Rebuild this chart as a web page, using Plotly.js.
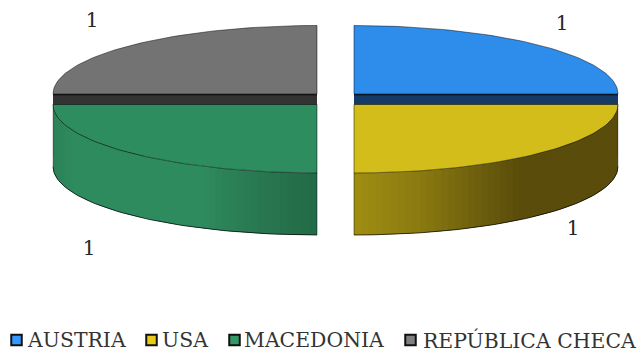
<!DOCTYPE html>
<html><head><meta charset="utf-8">
<script src="https://cdn.plot.ly/plotly-3.0.1.min.js"></script>
<style>html,body{margin:0;padding:0;background:#fff}#c{width:641px;height:353px}</style>
</head><body><div id="c"></div>
<script>
const categories = ["AUSTRIA", "USA", "MACEDONIA", "REPÚBLICA CHECA"];
const values = [1, 1, 1, 1];
const faceColors = ["#2e8ceb", "#d3bd1a", "#2e8d5e", "#737373"];
const cutColors = ["#153a66", "#5c500c", "#1f5c3f", "#333333"];
const legendColors = ["#3399ff", "#e6cc19", "#339966", "#808080"];
const legendMarkerX = [16.5, 151.5, 234.5, 410.5];
const legendTextX = [24.5, 159.5, 242, 421];
const labelX = [562, 573, 89, 92];
const labelY = [25, 230, 250, 22];
const sideStops = {
  1: [[354, "#a08e12"], [420, "#8a7a10"], [480, "#6c5e0d"], [520, "#5a4c0a"], [618, "#5a4c0a"]],
  2: [[53, "#2b8257"], [75, "#2e8b5e"], [200, "#2e8b5e"], [250, "#2a7a52"], [317, "#226a47"]]
};

const RX = 264, RY = 68.5, DEPTH = 62, CX = 335.5, CY = 99.25;
const EX = 26.16, EY = 7.42;
const total = values.reduce((a, b) => a + b, 0);
const outline = "rgba(0,0,0,0.7)";
const traces = [];

function hex(c) { return [1, 3, 5].map(i => parseInt(c.substr(i, 2), 16)); }
function colorAt(stops, x) {
  for (let i = 1; i < stops.length; i++) {
    if (x <= stops[i][0]) {
      const t = (x - stops[i - 1][0]) / (stops[i][0] - stops[i - 1][0]);
      const a = hex(stops[i - 1][1]), b = hex(stops[i][1]);
      return "rgb(" + a.map((v, k) => Math.round(v + (b[k] - v) * Math.max(0, t))).join(",") + ")";
    }
  }
  return stops[stops.length - 1][1];
}
function poly(xs, ys, fill, line, width) {
  traces.push({
    type: "scatter", mode: "lines", x: xs, y: ys, fill: "toself", fillcolor: fill,
    line: { color: line || fill, width: width === undefined ? 0 : width },
    hoverinfo: "skip", showlegend: false
  });
}
function stroke(xs, ys, color, width) {
  traces.push({
    type: "scatter", mode: "lines", x: xs, y: ys,
    line: { color: color, width: width }, hoverinfo: "skip", showlegend: false
  });
}

let acc = 0;
const slices = values.map((v, i) => {
  const a0 = acc / total * 2 * Math.PI;
  acc += v;
  const a1 = acc / total * 2 * Math.PI;
  const mid = (a0 + a1) / 2;
  return { i, a0, a1, cx: CX + EX * Math.sin(mid), cy: CY - EY * Math.cos(mid) };
});
function pt(s, a, dy) {
  return [s.cx + RX * Math.sin(a), s.cy - RY * Math.cos(a) + (dy || 0)];
}
function arc(s, from, to, dy) {
  const n = 60, out = [];
  for (let k = 0; k <= n; k++) out.push(pt(s, from + (to - from) * k / n, dy));
  return out;
}

// Back slices first, so that the front slices overlap their cut faces.
const order = slices.slice().sort((a, b) => a.cy - b.cy);
order.forEach(s => {
  const front = Math.cos((s.a0 + s.a1) / 2) < 0;
  if (!front) {
    const edgeA = Math.abs(Math.cos(s.a0)) < 1e-6 ? s.a0 : s.a1;
    const e = pt(s, edgeA);
    poly([s.cx, e[0], e[0], s.cx], [s.cy, e[1], e[1] + DEPTH, s.cy + DEPTH], cutColors[s.i]);
    stroke([s.cx, e[0]], [s.cy + 0.8, e[1] + 0.8], "rgba(0,0,0,0.5)", 1.5);
  } else {
    // Each band overlaps the next one so that no seam shows between them.
    const steps = 56;
    const at = k => s.a0 + (s.a1 - s.a0) * Math.min(k, steps) / steps;
    for (let k = 0; k < steps; k++) {
      const p = pt(s, at(k)), q = pt(s, at(k + 1)), r = pt(s, at(k + 2));
      const ys = [p[1], q[1], r[1], r[1] + DEPTH, q[1] + DEPTH, p[1] + DEPTH];
      const xs = [p[0], q[0], r[0], r[0], q[0], p[0]];
      poly(xs, ys, colorAt(sideStops[s.i], (p[0] + q[0]) / 2));
    }
    const bottom = arc(s, s.a0, s.a1, DEPTH);
    stroke(bottom.map(p => p[0]), bottom.map(p => p[1]), outline, 1);
    const e0 = pt(s, s.a0), e1 = pt(s, s.a1);
    const inner = Math.abs(Math.sin(s.a0)) < 1e-6 ? e0 : e1;
    const outer = inner === e0 ? e1 : e0;
    stroke([inner[0], inner[0]], [inner[1], inner[1] + DEPTH], "rgba(0,0,0,0.45)", 1);
    stroke([outer[0], outer[0]], [outer[1], outer[1] + DEPTH], "rgba(0,0,0,0.25)", 1);
  }
  const top = arc(s, s.a0, s.a1).concat([[s.cx, s.cy]]);
  top.push(top[0]);
  poly(top.map(p => p[0]), top.map(p => p[1]), faceColors[s.i], "rgba(0,0,0,0.6)", 0.8);
});

// Value labels
traces.push({
  type: "scatter", mode: "text", x: labelX, y: labelY, text: values.map(String),
  textposition: "middle center",
  textfont: { family: "DejaVu Serif", size: 20, color: "#262626" },
  hoverinfo: "skip", showlegend: false
});

// Legend row
categories.forEach((c, i) => {
  traces.push({
    type: "scatter", mode: "markers", x: [legendMarkerX[i]], y: [340],
    marker: { symbol: "square", size: 10.5, color: legendColors[i], line: { color: "#111", width: 2 } },
    hoverinfo: "skip", showlegend: false
  });
});
const layout = {
  width: 641, height: 353, margin: { l: 0, r: 0, t: 0, b: 0 },
  paper_bgcolor: "#fff", plot_bgcolor: "#fff", showlegend: false,
  xaxis: { range: [0, 641], visible: false, fixedrange: true },
  yaxis: { range: [353, 0], visible: false, fixedrange: true },
  annotations: categories.map((c, i) => ({
    x: legendTextX[i], y: 340, xref: "x", yref: "y", text: c, showarrow: false,
    xanchor: "left", yanchor: "middle",
    font: { family: "DejaVu Serif", size: 20.4, color: "#333" }
  }))
};
Plotly.newPlot("c", traces, layout, { staticPlot: true, displayModeBar: false });
</script></body></html>
